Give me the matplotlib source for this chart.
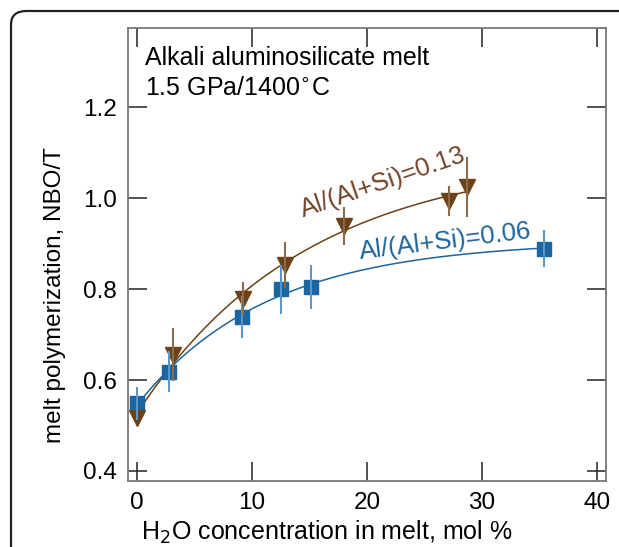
import numpy as np
import matplotlib.pyplot as plt
from matplotlib.patches import FancyBboxPatch

plt.rcParams['font.family'] = ['Liberation Sans', 'DejaVu Sans']

# Al/(Al+Si)=0.06 series (blue squares)
h2o_06 = [0.0, 2.8, 9.1, 12.5, 15.1, 35.4]
nbo_06 = [0.549, 0.618, 0.739, 0.800, 0.805, 0.889]
err_06 = [0.036, 0.045, 0.046, 0.054, 0.049, 0.040]

# Al/(Al+Si)=0.13 series (brown triangles)
h2o_13 = [0.0, 3.1, 9.25, 12.9, 18.0, 27.1, 28.7]
nbo_13 = [0.516, 0.656, 0.779, 0.853, 0.938, 0.993, 1.024]
err_13 = [0.0, 0.058, 0.037, 0.050, 0.042, 0.033, 0.066]

blue = '#1b65a0'
blue_err = '#5d95c4'
brown = '#6b4216'
brown_err = '#8c6a4a'


def fit_saturation(x, y):
    # y = a - b*exp(-c*x), grid search on c, least squares for a, b
    x = np.asarray(x)
    y = np.asarray(y)
    best = None
    for c in np.linspace(0.005, 0.5, 2000):
        A = np.column_stack([np.ones_like(x), -np.exp(-c * x)])
        coef, *_ = np.linalg.lstsq(A, y, rcond=None)
        r = np.sum((A @ coef - y) ** 2)
        if best is None or r < best[0]:
            best = (r, coef[0], coef[1], c)
    _, a, b, c = best
    return lambda t: a - b * np.exp(-c * t)


fig = plt.figure(figsize=(6.19, 5.47), dpi=100)
ax = fig.add_axes([128 / 619, 1 - 481 / 547, (606 - 128) / 619, (481 - 28) / 547])

# rounded frame around the panel
frame = FancyBboxPatch((11 / 619, -0.2), 1.2, 1 - 11 / 547 + 0.2,
                       boxstyle='round,pad=0,rounding_size=0.025',
                       transform=fig.transFigure, fill=False,
                       edgecolor='#222222', linewidth=1.6, clip_on=False)
fig.patches.append(frame)

f06 = fit_saturation(h2o_06, nbo_06)
f13 = fit_saturation(h2o_13, nbo_13)
t06 = np.linspace(0.3, max(h2o_06), 200)
t13 = np.linspace(0.0, max(h2o_13), 200)
ax.plot(t13, f13(t13), color=brown, lw=1.1, zorder=2)
ax.plot(t06, f06(t06), color=blue, lw=1.1, zorder=2)

ax.plot(h2o_06, nbo_06, 's', color=blue, ms=10, zorder=3)
ax.plot(h2o_13, nbo_13, 'v', color=brown, ms=11, zorder=3)
ax.errorbar(h2o_06, nbo_06, yerr=err_06, fmt='none', ecolor=blue_err,
            elinewidth=1.5, capsize=0, zorder=4)
ax.errorbar(h2o_13, nbo_13, yerr=err_13, fmt='none', ecolor=brown_err,
            elinewidth=1.5, capsize=0, zorder=4)

ax.text(21.4, 1.035, 'Al/(Al+Si)=0.13', color='#74442a', fontsize=18.5,
        rotation=19, ha='center', va='center', rotation_mode='anchor')
ax.text(26.8, 0.905, 'Al/(Al+Si)=0.06', color=blue, fontsize=18.5,
        rotation=7, ha='center', va='center', rotation_mode='anchor')
ax.text(0.036, 0.96, 'Alkali aluminosilicate melt\n1.5 GPa/1400$^{\\circ}$C',
        transform=ax.transAxes, fontsize=18, ha='left', va='top',
        linespacing=1.32)

ax.set_xlim(-0.78, 40.8)
ax.set_ylim(0.378, 1.374)
ax.set_xticks([0, 10, 20, 30, 40])
ax.set_yticks([0.4, 0.6, 0.8, 1.0, 1.2])
ax.set_yticklabels(['0.4', '0.6', '0.8', '1.0', '1.2'])
ax.tick_params(direction='in', length=14, width=1.2, top=True, right=True,
               labelsize=17.5, pad=8, color='#333333')
for s in ax.spines.values():
    s.set_color('#777777')
    s.set_linewidth(1.3)

ax.set_xlabel('H$_2$O concentration in melt, mol %', fontsize=18)
ax.set_ylabel('melt polymerization, NBO/T', fontsize=17.5)
ax.xaxis.set_label_coords((327 - 128) / 478, (481 - 532) / 453)
ax.yaxis.set_label_coords((55 - 128) / 478, (481 - 295) / 453)
ax.xaxis.label.set_va('center')
ax.yaxis.label.set_va('center')

plt.savefig('out.png', dpi=100)
